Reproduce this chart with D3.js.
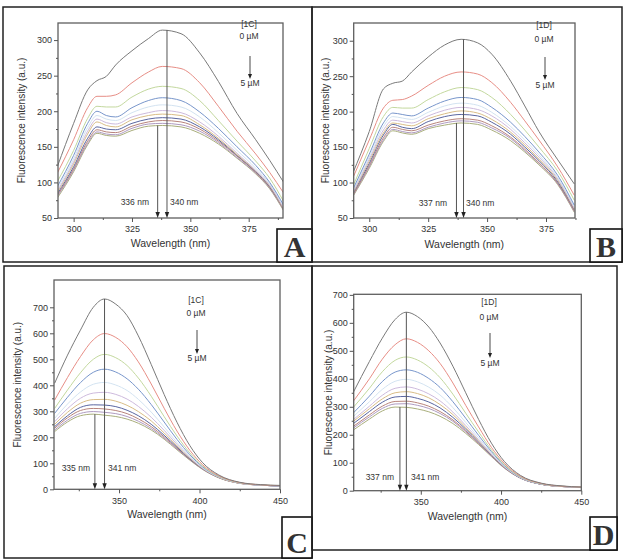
<!DOCTYPE html>
<html><head><meta charset="utf-8">
<script src="https://cdn.jsdelivr.net/npm/d3@7"></script>
<style>
body{margin:0;background:#fff}
svg{display:block}
text{font-family:"Liberation Sans",Arial,sans-serif;fill:#333}
</style>
</head><body>
<svg id="fig" width="624" height="560"></svg>
<script>
// ---------- DATA ----------
const concentrations = ["0 µM","0.5","1","1.5","2","2.5","3","3.5","4","4.5","5 µM"];
const seriesColors = ["#7a7a7a","#e78e86","#c3d89e","#7896cb","#d3e3f1","#cdbadd","#d9bd86","#5a66a0","#b8847c","#ae9ac0","#a9ae7c"];

const xTicksAB = [300, 325, 350, 375];
const xMinorAB = [312.5, 337.5, 362.5, 387.5];
const yTicksAB = [50, 100, 150, 200, 250, 300];
const yMinorAB = [75, 125, 175, 225, 275];
const xTicksCD = [350, 400, 450];
const xMinorCD = [325, 375, 425];
const yTicksCD = [0, 100, 200, 300, 400, 500, 600, 700];
const yMinorCD = [50, 150, 250, 350, 450, 550, 650];

const wlA = [293, 300, 306, 310, 314, 318, 325, 332, 338, 346, 354, 362, 370, 378, 384, 390];
const intensA = [
  [122, 183, 230, 243, 249, 265, 285, 302, 314, 309, 282, 242, 197, 160, 131, 100],
  [113, 160, 205, 221, 221, 223, 240, 255, 263, 260, 240, 207, 172, 140, 114, 85],
  [101, 145, 190, 207, 206, 206, 220, 231, 235, 232, 215, 187, 158, 130, 106, 73],
  [94, 138, 183, 200, 194, 192, 205, 215, 219, 215, 199, 176, 150, 124, 100, 68],
  [91, 133, 177, 194, 189, 187, 198, 206, 209, 206, 192, 170, 145, 120, 98, 66],
  [88, 129, 172, 189, 184, 182, 192, 198, 201, 198, 185, 165, 141, 117, 96, 64],
  [86, 126, 168, 185, 180, 178, 188, 194, 196, 194, 181, 162, 139, 116, 95, 63],
  [84, 122, 162, 178, 175, 174, 183, 189, 191, 189, 178, 160, 138, 115, 94, 63],
  [82, 119, 158, 174, 171, 170, 179, 185, 187, 185, 175, 158, 137, 114, 93, 62],
  [80, 117, 155, 171, 168, 167, 176, 182, 183, 181, 172, 156, 135, 113, 92, 61],
  [78, 115, 153, 169, 166, 165, 173, 179, 180, 178, 169, 154, 134, 112, 91, 60]
];

const wlB = [293, 300, 306, 310, 314, 318, 325, 332, 339, 346, 352, 360, 366, 372, 380, 387];
const intensB = [
  [113, 172, 232, 240, 243, 256, 277, 294, 302, 297, 281, 243, 208, 172, 132, 98],
  [106, 160, 205, 216, 217, 222, 237, 250, 256, 253, 241, 213, 187, 160, 122, 82],
  [94, 148, 193, 206, 205, 205, 217, 228, 234, 231, 220, 196, 174, 150, 116, 75],
  [90, 140, 184, 198, 196, 194, 205, 215, 220, 217, 206, 185, 165, 143, 110, 68],
  [88, 136, 179, 193, 191, 189, 199, 208, 212, 209, 199, 179, 160, 139, 107, 66],
  [86, 133, 174, 188, 186, 184, 194, 202, 206, 203, 194, 175, 156, 136, 105, 64],
  [85, 130, 170, 184, 182, 180, 190, 197, 201, 198, 189, 171, 153, 133, 103, 63],
  [84, 127, 167, 182, 178, 176, 186, 193, 196, 194, 185, 168, 150, 131, 101, 62],
  [82, 124, 163, 178, 175, 173, 181, 187, 190, 188, 180, 164, 147, 128, 99, 60],
  [81, 122, 160, 175, 172, 170, 178, 184, 187, 185, 177, 162, 145, 127, 98, 59],
  [80, 120, 158, 173, 170, 168, 176, 181, 184, 182, 174, 159, 143, 125, 97, 58]
];

const wlC = [310, 318, 326, 334, 341, 348, 355, 362, 370, 378, 386, 394, 402, 412, 425, 438, 450];
const intensC = [
  [408, 516, 612, 700, 732, 712, 668, 590, 480, 365, 258, 168, 102, 55, 27, 18, 15],
  [343, 430, 510, 575, 599, 584, 548, 490, 405, 312, 224, 150, 94, 52, 26, 17, 14],
  [311, 382, 448, 500, 519, 506, 476, 428, 358, 280, 205, 140, 89, 50, 25, 17, 14],
  [292, 354, 410, 450, 462, 451, 425, 385, 326, 259, 192, 133, 86, 49, 25, 16, 13],
  [273, 328, 374, 404, 411, 401, 380, 346, 297, 240, 180, 127, 83, 48, 24, 16, 13],
  [260, 310, 350, 370, 373, 365, 347, 319, 277, 227, 173, 123, 81, 47, 24, 16, 13],
  [250, 296, 331, 345, 346, 339, 323, 299, 263, 217, 167, 120, 80, 46, 24, 16, 13],
  [241, 283, 315, 325, 324, 318, 304, 283, 250, 208, 162, 117, 79, 46, 24, 16, 13],
  [235, 275, 303, 311, 309, 303, 291, 271, 241, 202, 158, 115, 78, 45, 23, 16, 12],
  [228, 266, 292, 299, 296, 291, 280, 262, 234, 197, 155, 114, 77, 45, 23, 16, 12],
  [222, 259, 283, 289, 285, 280, 270, 254, 228, 193, 152, 112, 76, 44, 23, 16, 12]
];

const wlD = [308, 318, 326, 334, 341, 348, 355, 362, 370, 378, 386, 394, 402, 412, 425, 438, 450];
const intensD = [
  [352, 462, 545, 612, 638, 622, 585, 528, 445, 350, 255, 170, 105, 55, 27, 17, 13],
  [320, 400, 470, 522, 543, 530, 500, 455, 385, 305, 228, 155, 98, 52, 26, 16, 13],
  [298, 366, 425, 466, 478, 467, 442, 404, 345, 277, 210, 146, 93, 50, 25, 16, 13],
  [278, 338, 390, 424, 432, 423, 401, 369, 318, 259, 198, 140, 90, 49, 25, 16, 12],
  [265, 318, 362, 391, 398, 389, 370, 342, 297, 244, 189, 135, 88, 48, 24, 16, 12],
  [254, 302, 341, 366, 371, 363, 346, 321, 281, 233, 182, 131, 86, 47, 24, 15, 12],
  [248, 293, 328, 350, 354, 347, 332, 308, 272, 226, 178, 129, 85, 47, 24, 15, 12],
  [240, 283, 316, 335, 337, 330, 317, 296, 262, 220, 174, 127, 84, 46, 23, 15, 12],
  [230, 271, 302, 319, 320, 314, 302, 283, 253, 214, 170, 125, 83, 46, 23, 15, 12],
  [224, 264, 294, 310, 311, 305, 294, 276, 248, 210, 168, 124, 82, 45, 23, 15, 12],
  [217, 256, 285, 299, 298, 292, 282, 266, 240, 205, 165, 122, 81, 45, 23, 15, 12]
];

const peaksA = [336, 340];
const peaksB = [337, 340];
const peaksC = [335, 341];
const peaksD = [337, 341];
const compounds = ["[1C]", "[1D]", "[1C]", "[1D]"];
const panelLetters = ["A", "B", "C", "D"];
const xTitle = "Wavelength (nm)";
const yTitle = "Fluorescence intensity (a.u.)";

// ---------- LAYOUT ----------
const panels = [
  {frame:[3,7,312,262], box:[277,229,312,262], plot:{l:58,r:283,t:23,b:218}, xd:[293.3,389.7], yd:[50,324],
   wl:wlA, data:intensA, xt:xTicksAB, xm:xMinorAB, yt:yTicksAB, ym:yMinorAB, peaks:peaksA,
   leg:{x:249, y0:27, y1:39, a0:56, a1:79, y2:86}, lab:{y:205, lx:149, rx:170}, yTitleX:21, xTitleY:247},
  {frame:[312,7,622,262], box:[590,229,622,262], plot:{l:353.7,r:575,t:23,b:218}, xd:[293.4,387.3], yd:[50,325],
   wl:wlB, data:intensB, xt:xTicksAB, xm:xMinorAB, yt:yTicksAB, ym:yMinorAB, peaks:peaksB,
   leg:{x:544, y0:28, y1:42, a0:57, a1:80, y2:88}, lab:{y:206, lx:447, rx:466}, yTitleX:325, xTitleY:248},
  {frame:[4,266,312,558], box:[282,517,312,558], plot:{l:54,r:280,t:280,b:489.3}, xd:[309.6,450], yd:[0,805],
   wl:wlC, data:intensC, xt:xTicksCD, xm:xMinorCD, yt:yTicksCD, ym:yMinorCD, peaks:peaksC,
   leg:{x:196, y0:303, y1:316, a0:330, a1:354, y2:361}, lab:{y:471, lx:90, rx:108}, yTitleX:17, xTitleY:518},
  {frame:[312,266,617,550], box:[590,517,617,550], plot:{l:353.7,r:581.3,t:294.3,b:490.7}, xd:[308.2,450], yd:[0,702],
   wl:wlD, data:intensD, xt:xTicksCD, xm:xMinorCD, yt:yTicksCD, ym:yMinorCD, peaks:peaksD,
   leg:{x:489, y0:305, y1:320, a0:333, a1:358, y2:366}, lab:{y:480, lx:394, rx:411}, yTitleX:328, xTitleY:520}
];

const svg = d3.select("#fig");
const defs = svg.append("defs");

panels.forEach((p, i) => {
  const g = svg.append("g");
  const x = d3.scaleLinear().domain(p.xd).range([p.plot.l, p.plot.r]);
  const y = d3.scaleLinear().domain(p.yd).range([p.plot.b, p.plot.t]);

  defs.append("clipPath").attr("id", "clip" + i).append("rect")
    .attr("x", p.plot.l).attr("y", p.plot.t)
    .attr("width", p.plot.r - p.plot.l).attr("height", p.plot.b - p.plot.t);

  // curves
  const line = d3.line().x((d, j) => x(p.wl[j])).y(d => y(d)).curve(d3.curveMonotoneX);
  const cg = g.append("g").attr("clip-path", `url(#clip${i})`);
  p.data.slice().reverse().forEach((s, k) => {
    const idx = p.data.length - 1 - k;
    cg.append("path").attr("d", line(s)).attr("fill", "none")
      .attr("stroke", seriesColors[idx]).attr("stroke-width", 1);
  });

  // frame of plot
  g.append("rect").attr("x", p.plot.l).attr("y", p.plot.t)
    .attr("width", p.plot.r - p.plot.l).attr("height", p.plot.b - p.plot.t)
    .attr("fill", "none").attr("stroke", "#5f5f5f").attr("stroke-width", 1.3);

  // axes
  const styleAxis = sel => {
    sel.select(".domain").remove();
    sel.selectAll("line").attr("stroke", "#555");
    sel.selectAll("text").style("font-size", "9px").attr("fill", "#333");
  };
  g.append("g").attr("transform", `translate(0,${p.plot.b})`)
    .call(d3.axisBottom(x).tickValues(p.xt).tickSize(4).tickPadding(4).tickFormat(d3.format("d"))).call(styleAxis);
  g.append("g").attr("transform", `translate(0,${p.plot.b})`)
    .call(d3.axisBottom(x).tickValues(p.xm).tickSize(2).tickFormat("")).call(styleAxis);
  g.append("g").attr("transform", `translate(${p.plot.l},0)`)
    .call(d3.axisLeft(y).tickValues(p.yt).tickSize(4).tickPadding(2).tickFormat(d3.format("d"))).call(styleAxis);
  g.append("g").attr("transform", `translate(${p.plot.l},0)`)
    .call(d3.axisLeft(y).tickValues(p.ym).tickSize(2).tickFormat("")).call(styleAxis);

  // axis titles
  g.append("text").attr("x", (p.plot.l + p.plot.r) / 2).attr("y", p.xTitleY)
    .attr("text-anchor", "middle").style("font-size", "10.5px").text(xTitle);
  g.append("text").attr("transform", `translate(${p.yTitleX},${(p.plot.t + p.plot.b) / 2}) rotate(-90)`)
    .attr("text-anchor", "middle").attr("dy", "0.35em").style("font-size", "10px").text(yTitle);

  // peak arrows
  const first = p.data[0], last = p.data[p.data.length - 1];
  const tops = [d3.max(last), d3.max(first)];
  p.peaks.forEach((pk, k) => {
    const px = x(pk);
    g.append("line").attr("x1", px).attr("x2", px).attr("y1", y(tops[k])).attr("y2", p.plot.b - 5)
      .attr("stroke", "#555").attr("stroke-width", 1);
    g.append("path").attr("d", `M${px - 2.2},${p.plot.b - 6}L${px + 2.2},${p.plot.b - 6}L${px},${p.plot.b}Z`)
      .attr("fill", "#222");
  });
  g.append("text").attr("x", p.lab.lx).attr("y", p.lab.y).attr("text-anchor", "end")
    .style("font-size", "8.5px").text(p.peaks[0] + " nm");
  g.append("text").attr("x", p.lab.rx).attr("y", p.lab.y).attr("text-anchor", "start")
    .style("font-size", "8.5px").text(p.peaks[1] + " nm");

  // concentration legend
  g.append("text").attr("x", p.leg.x).attr("y", p.leg.y0).attr("text-anchor", "middle")
    .style("font-size", "8.5px").text(compounds[i]);
  g.append("text").attr("x", p.leg.x).attr("y", p.leg.y1).attr("text-anchor", "middle")
    .style("font-size", "8.5px").text(concentrations[0]);
  g.append("line").attr("x1", p.leg.x + 1).attr("x2", p.leg.x + 1).attr("y1", p.leg.a0).attr("y2", p.leg.a1 - 4)
    .attr("stroke", "#333").attr("stroke-width", 0.9);
  g.append("path").attr("d", `M${p.leg.x - 1},${p.leg.a1 - 5}L${p.leg.x + 3},${p.leg.a1 - 5}L${p.leg.x + 1},${p.leg.a1}Z`).attr("fill", "#222");
  g.append("text").attr("x", p.leg.x + 1).attr("y", p.leg.y2).attr("text-anchor", "middle")
    .style("font-size", "8.5px").text(concentrations[concentrations.length - 1]);

  // panel frame
  const f = p.frame;
  g.append("rect").attr("x", f[0]).attr("y", f[1]).attr("width", f[2] - f[0]).attr("height", f[3] - f[1])
    .attr("fill", "none").attr("stroke", "#222").attr("stroke-width", 1.5);
  const b = p.box;
  g.append("rect").attr("x", b[0]).attr("y", b[1]).attr("width", b[2] - b[0]).attr("height", b[3] - b[1])
    .attr("fill", "#fff").attr("stroke", "#111").attr("stroke-width", 1.6);
  g.append("text").attr("x", (b[0] + b[2]) / 2).attr("y", b[3] - 5).attr("text-anchor", "middle")
    .style("font-family", "'Liberation Serif','Times New Roman',serif").style("font-weight", "bold")
    .style("font-size", "30px").attr("fill", "#111").text(panelLetters[i]);
});
</script>
</body></html>
